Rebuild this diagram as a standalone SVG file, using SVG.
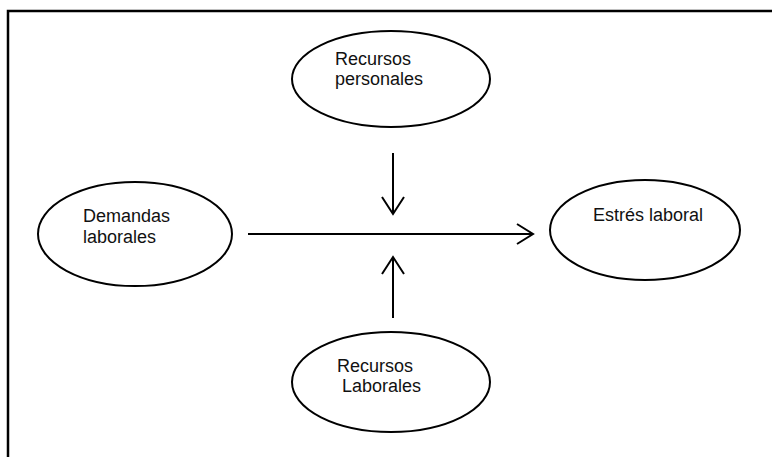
<svg xmlns="http://www.w3.org/2000/svg" width="772" height="457" viewBox="0 0 772 457">
<style>
.node ellipse{fill:#fff;stroke:#000;stroke-width:2}
.node text{font-family:"Liberation Sans",Arial,sans-serif;font-size:18px;fill:#111}
.conn line,.conn polyline{stroke:#000;stroke-width:2;fill:none}
</style>
<rect width="772" height="457" fill="#fff"/>
<path d="M8 460 V11 H775" fill="none" stroke="#000" stroke-width="2.5"/>
<g id="recursos-personales" class="node">
<ellipse cx="391" cy="79" rx="99" ry="48"/>
<text x="335" y="65">Recursos</text>
<text x="335" y="85">personales</text>
</g>
<g id="demandas-laborales" class="node">
<ellipse cx="135" cy="234" rx="97" ry="52"/>
<text x="83" y="222">Demandas</text>
<text x="83" y="243">laborales</text>
</g>
<g id="estres-laboral" class="node">
<ellipse cx="645" cy="230" rx="95" ry="50"/>
<text x="593" y="221">Estrés laboral</text>
</g>
<g id="recursos-laborales" class="node">
<ellipse cx="391" cy="382" rx="99" ry="50"/>
<text x="337" y="372">Recursos</text>
<text x="342" y="392">Laborales</text>
</g>
<g id="connectors" class="conn">
<line x1="248" y1="234" x2="533" y2="234"/>
<polyline points="517,224 533,234 517,244"/>
<line x1="393" y1="153" x2="393" y2="214"/>
<polyline points="382,197 393,214 404,197"/>
<line x1="393" y1="318" x2="393" y2="257"/>
<polyline points="382,274 393,257 404,274"/>
</g>
</svg>
